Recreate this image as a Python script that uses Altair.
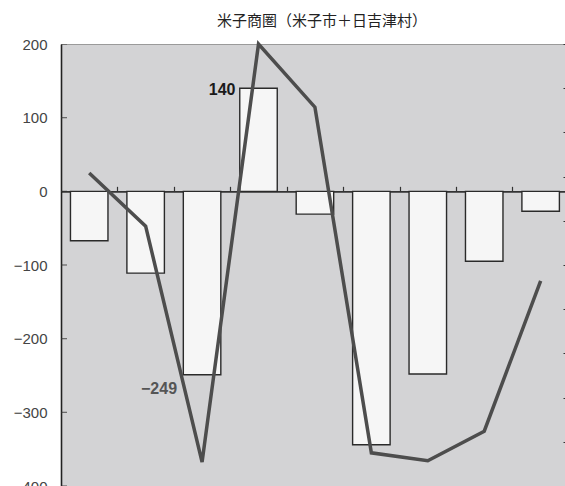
import altair as alt
import pandas as pd

# category positions (1..9), bar values (left axis), line values (right axis)
positions = [1, 2, 3, 4, 5, 6, 7, 8, 9]
bar_values = [-67, -111, -249, 140, -31, -344, -248, -95, -27]
line_values = [-0.92, -2.12, -7.46, 2.0, 0.57, -7.25, -7.43, -6.76, -3.36]

left_ticks = [-400, -300, -200, -100, 0, 100, 200]
right_ticks = [-8, -7, -6, -5, -4, -3, -2, -1, 0, 1, 2]
band_edges = [1.5, 2.5, 3.5, 4.5, 5.5, 6.5, 7.5, 8.5]

label_max_pos = [4]
label_max_val = [140]
label_max_txt = ["140"]
label_min_pos = [3]
label_min_val = [-249]
label_min_txt = ["\u2212249"]

df = pd.DataFrame({"pos": positions, "bar": bar_values, "line": line_values})
lab_max = pd.DataFrame({"pos": label_max_pos, "val": label_max_val, "txt": label_max_txt})
lab_min = pd.DataFrame({"pos": label_min_pos, "val": label_min_val, "txt": label_min_txt})
ticks_df = pd.DataFrame({"t": left_ticks, "x0": [0.5] * len(left_ticks)})

W, H = 504, 442
X0 = 0.5
X1 = 0.5 + W / 56.43
x_scale = alt.Scale(domain=[X0, X1], nice=False, zero=False, padding=0)
left_scale = alt.Scale(domain=[-400, 200], nice=False, zero=False)

x_axis = alt.Axis(orient="top", offset=-H * 200 / 600, values=band_edges, labels=False,
                  tickSize=5, tickColor="#333", tickWidth=1.2, domainColor="#333",
                  domainWidth=1.6, grid=False, title=None)
left_axis = alt.Axis(orient="left", values=left_ticks, tickSize=0, labelPadding=14,
                     domainColor="#222", domainWidth=1.6, labelFontSize=15,
                     labelFont="Liberation Sans", labelColor="#444", grid=False, title=None)

bars = alt.Chart(df).mark_bar(size=37.5, fill="#f6f6f6", stroke="#2a2a2a", strokeWidth=1.4).encode(
    x=alt.X("pos:Q", scale=x_scale, axis=x_axis),
    y=alt.Y("bar:Q", scale=left_scale, axis=left_axis),
)

# inner tick marks of the left axis (clipped to the plot so only the inner half shows)
inner_ticks = alt.Chart(ticks_df).mark_tick(clip=True, size=12, thickness=1.2, color="#333",
                                            orient="horizontal").encode(
    x=alt.X("x0:Q", scale=x_scale, axis=x_axis),
    y=alt.Y("t:Q", scale=left_scale, axis=left_axis),
)

txt_max = alt.Chart(lab_max).mark_text(align="right", baseline="middle", dx=-23, dy=2,
                                       fontSize=16, fontWeight="bold", font="Liberation Sans",
                                       color="#1a1a1a").encode(
    x=alt.X("pos:Q", scale=x_scale, axis=x_axis),
    y=alt.Y("val:Q", scale=left_scale, axis=left_axis),
    text="txt:N",
)

txt_min = alt.Chart(lab_min).mark_text(align="right", baseline="middle", dx=-25, dy=14,
                                       fontSize=16, fontWeight="bold", font="Liberation Sans",
                                       color="#555").encode(
    x=alt.X("pos:Q", scale=x_scale, axis=x_axis),
    y=alt.Y("val:Q", scale=left_scale, axis=left_axis),
    text="txt:N",
)

line = alt.Chart(df).mark_line(color="#4d4d4d", strokeWidth=3.5).encode(
    x=alt.X("pos:Q", scale=x_scale, axis=x_axis),
    y=alt.Y("line:Q", scale=alt.Scale(domain=[-8, 2], nice=False, zero=False),
            axis=alt.Axis(orient="right", offset=-2, values=right_ticks, tickSize=6,
                          tickColor="#333", tickWidth=1.2, labels=False, domain=False,
                          grid=False, title=None)),
)

left_layer = alt.layer(bars, inner_ticks, txt_max, txt_min)

chart = alt.layer(left_layer, line).resolve_scale(y="independent").properties(
    width=W, height=H,
    padding={"left": 61, "top": 44, "right": 0, "bottom": 0},
    autosize=alt.AutoSizeParams(type="none"),
    title=alt.Title("米子商圏（米子市＋日吉津村）", fontSize=15, font="Noto Sans CJK JP",
                    fontWeight="normal", color="#222", dx=9, offset=8, anchor="middle"),
).configure(
    background="white",
    view=alt.ViewConfig(fill="#d3d3d5", stroke="#9a9a9a", strokeWidth=1),
)

chart.save("out.html", embed_options={"renderer": "svg", "actions": False})
